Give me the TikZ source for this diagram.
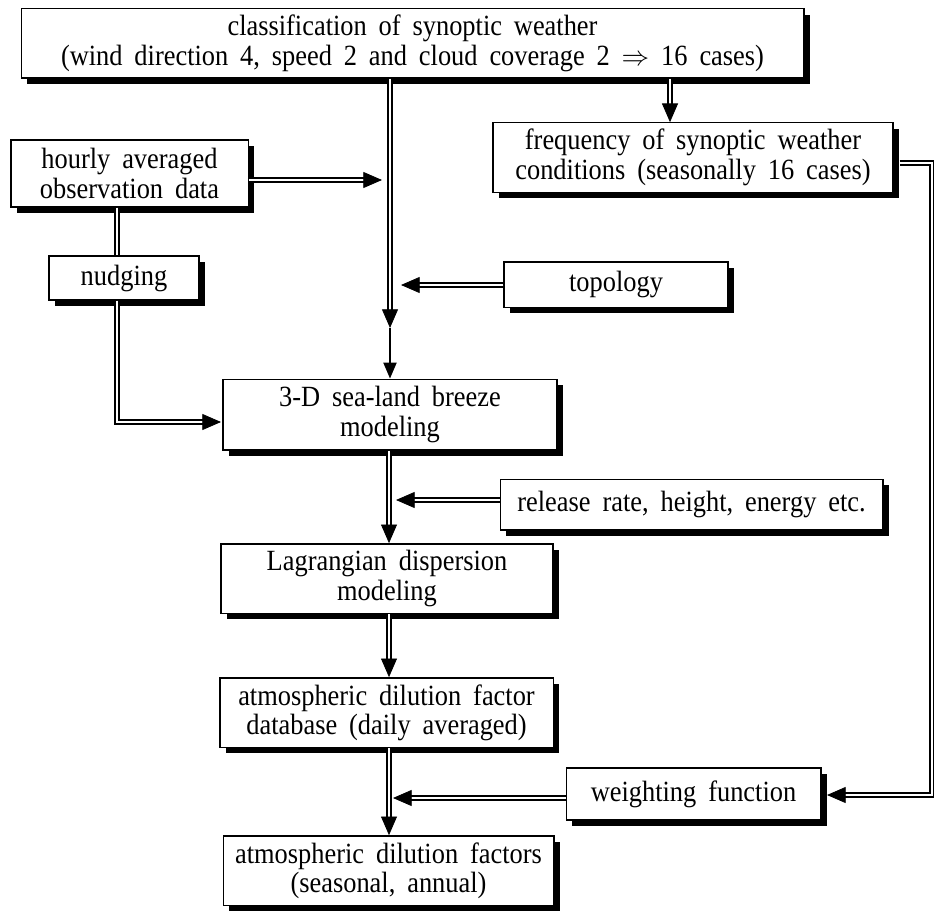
\documentclass[tikz,border=0pt]{standalone}
\usepackage{fontspec}
\setmainfont{Liberation Serif}[WordSpace=1.8, FakeStretch=0.9]
\usetikzlibrary{arrows.meta,shadows,decorations.markings}

\tikzset{
  box/.style={draw, line width=1pt, fill=white, align=center, inner sep=0pt,
    font=\fontsize{22pt}{22pt}\selectfont,
    drop shadow={shadow xshift=4.5pt, shadow yshift=-4.5pt, fill=black, opacity=1}},
  dbl/.style={draw, double, line width=0.9pt, double distance=2pt},
  dblarrow/.style={dbl, shorten >=8pt,
    postaction={decorate, decoration={markings,
      mark=at position 1 with {\arrow[line width=0.6pt]{Triangle[length=14pt,width=12pt]}}}}},
}

\begin{document}
\begin{tikzpicture}[x=0.75pt,y=0.75pt,yscale=-1,xscale=1]
\useasboundingbox (0,0) rectangle (934,913);

%Shape: Box
\node [box, minimum width=587pt, minimum height=52pt] (synop) at (412.5,43.5) {classification of synoptic weather\\(wind direction 4, speed 2 and cloud coverage 2 $\Rightarrow$ 16 cases)};
%Shape: Box
\node [box, minimum width=300pt, minimum height=52pt] (freq) at (693,157.5) {frequency of synoptic weather\\conditions (seasonally 16 cases)};
%Shape: Box
\node [box, minimum width=178pt, minimum height=50pt] (hourly) at (129.5,173.5) {hourly averaged\\observation data};
%Shape: Box
\node [box, minimum width=112.5pt, minimum height=33pt] (nudging) at (124,278) {nudging};
%Shape: Box
\node [box, minimum width=168pt, minimum height=34pt] (topo) at (616,284.5) {topology};
%Shape: Box
\node [box, minimum width=250.5pt, minimum height=53pt] (sealand) at (390,414.5) {3-D sea-land breeze\\modeling};
%Shape: Box
\node [box, minimum width=287pt, minimum height=38pt] (release) at (691.5,504.5) {release rate, height, energy etc.};
%Shape: Box
\node [box, minimum width=249pt, minimum height=52pt] (lagr) at (387,578.5) {Lagrangian dispersion\\modeling};
%Shape: Box
\node [box, minimum width=250pt, minimum height=52pt] (atmdb) at (386.5,712.5) {atmospheric dilution factor\\database (daily averaged)};
%Shape: Box
\node [box, minimum width=191pt, minimum height=39pt] (weight) at (693.5,794) {weighting function};
%Shape: Box
\node [box, minimum width=248pt, minimum height=52pt] (atmfac) at (388.5,870.5) {atmospheric dilution factors\\(seasonal, annual)};

%Joints
\coordinate (m) at (389,0);
\coordinate (j1) at (390,328);
\coordinate (h1) at (382,180);
\coordinate (t1) at (401,285);
\coordinate (n1) at (117,0);
\coordinate (s1) at (221,422);
\coordinate (f1) at (670,0);
\coordinate (r1) at (932,163);
\coordinate (w1) at (827,795);
\coordinate (r2) at (396,500);
\coordinate (w2) at (393,798);

%Straight Lines
\draw [dblarrow] (synop.south -| j1) -- (j1);
\draw [-{Triangle[length=12pt,width=10pt]}, line width=1pt] (j1) -- (sealand.north -| j1);
\draw [dblarrow] (hourly.east |- h1) -- (h1);
\draw [dblarrow] (topo.west |- t1) -- (t1);
\draw [dbl] (hourly.south -| n1) -- (nudging.north -| n1);
\draw [dblarrow] (nudging.south -| n1) |- (s1);
\draw [dblarrow] (synop.south -| f1) -- (freq.north -| f1);
\draw [dblarrow, shorten <=4.5pt] (freq.east |- r1) -- (r1) |- (w1);
\draw [dblarrow] (sealand.south -| m) -- (lagr.north -| m);
\draw [dblarrow] (release.west |- r2) -- (r2);
\draw [dblarrow] (lagr.south -| m) -- (atmdb.north -| m);
\draw [dblarrow] (atmdb.south -| m) -- (atmfac.north -| m);
\draw [dblarrow] (weight.west |- w2) -- (w2);

\end{tikzpicture}
\end{document}
